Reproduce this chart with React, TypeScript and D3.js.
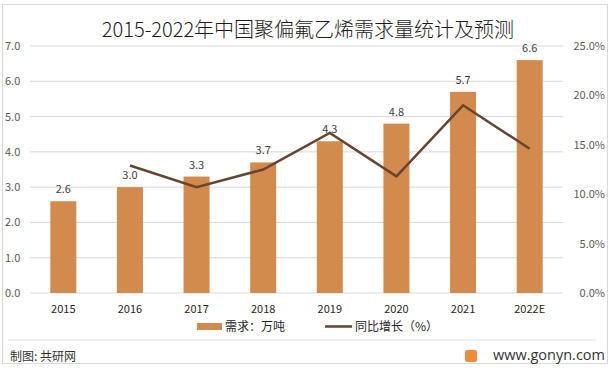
import React from 'react';
import * as d3 from 'd3';

const years = ['2015', '2016', '2017', '2018', '2019', '2020', '2021', '2022E'];
const demand = [2.6, 3.0, 3.3, 3.7, 4.3, 4.8, 5.7, 6.6];
const growth = [null, 12.9, 10.7, 12.5, 16.2, 11.8, 19.0, 14.6];
const leftTicks = [0, 1, 2, 3, 4, 5, 6, 7];
const rightTicks = [0, 5, 10, 15, 20, 25];

const W = 612, H = 372;
const m = { left: 30, right: 49, top: 46, bottom: 79 };
const font = '"Noto Sans CJK SC", "Noto Sans", sans-serif';

export default function App() {
  const x = d3.scaleBand().domain(years).range([m.left, W - m.right]).paddingInner(0.61).paddingOuter(0.305);
  const y = d3.scaleLinear().domain([0, 7]).range([H - m.bottom, m.top]);
  const y2 = d3.scaleLinear().domain([0, 25]).range([H - m.bottom, m.top]);
  const pts = years.map((yr, i) => ({ yr, v: growth[i] })).filter(d => d.v !== null) as { yr: string; v: number }[];
  const line = d3.line<{ yr: string; v: number }>()
    .x(d => (x(d.yr) as number) + x.bandwidth() / 2)
    .y(d => y2(d.v));

  return (
    <svg width={W} height={H} style={{ position: 'absolute', left: 0, top: 0 }} fontFamily={font}>
      <rect x={0} y={0} width={W} height={H} fill="#fff" />
      <rect x={2.5} y={4.5} width={605} height={359} fill="none" stroke="#d9d9d9" />
      <text x={308} y={37} textAnchor="middle" fontSize={20} fontWeight={300} fill="#1a1a1a">2015-2022年中国聚偏氟乙烯需求量统计及预测</text>
      {leftTicks.map(t => (
        <g key={t}>
          <line x1={m.left} x2={W - m.right} y1={y(t)} y2={y(t)} stroke="#d9d9d9" />
          <text x={5} y={y(t) + 4} fontSize={11} fill="#595959">{t.toFixed(1)}</text>
        </g>
      ))}
      {rightTicks.map(t => (
        <text key={t} x={605} y={y2(t) + 4} fontSize={11} fill="#595959" textAnchor="end">{t.toFixed(1)}%</text>
      ))}
      {years.map((yr, i) => (
        <g key={yr}>
          <rect x={x(yr)} y={y(demand[i])} width={x.bandwidth()} height={y(0) - y(demand[i])} fill="#d28b4c" />
          <text x={(x(yr) as number) + x.bandwidth() / 2} y={y(demand[i]) - 8} textAnchor="middle" fontSize={11} fill="#404040">{demand[i].toFixed(1)}</text>
          <text x={(x(yr) as number) + x.bandwidth() / 2} y={313} textAnchor="middle" fontSize={11} fill="#262626">{yr}</text>
        </g>
      ))}
      <path d={line(pts) || ''} fill="none" stroke="#654530" strokeWidth={2.5} />
      <rect x={197} y={323} width={25} height={7} fill="#d28b4c" />
      <text x={225} y={331} fontSize={12} fill="#262626">需求：万吨</text>
      <line x1={325} x2={352} y1={326.5} y2={326.5} stroke="#654530" strokeWidth={2.5} />
      <text x={355} y={331} fontSize={12} fill="#262626">同比增长（%）</text>
      <line x1={8} x2={596} y1={340} y2={340} stroke="#e6e6e6" />
      <text x={10} y={361} fontSize={12} fill="#333">制图: 共研网</text>
      <rect x={465} y={350} width={12} height={12} rx={2} fill="#f08a3c" />
      <text x={605} y={360} fontSize={14.5} fill="#333" textAnchor="end" fontFamily="'Open Sans', sans-serif">www.gonyn.com</text>
    </svg>
  );
}
